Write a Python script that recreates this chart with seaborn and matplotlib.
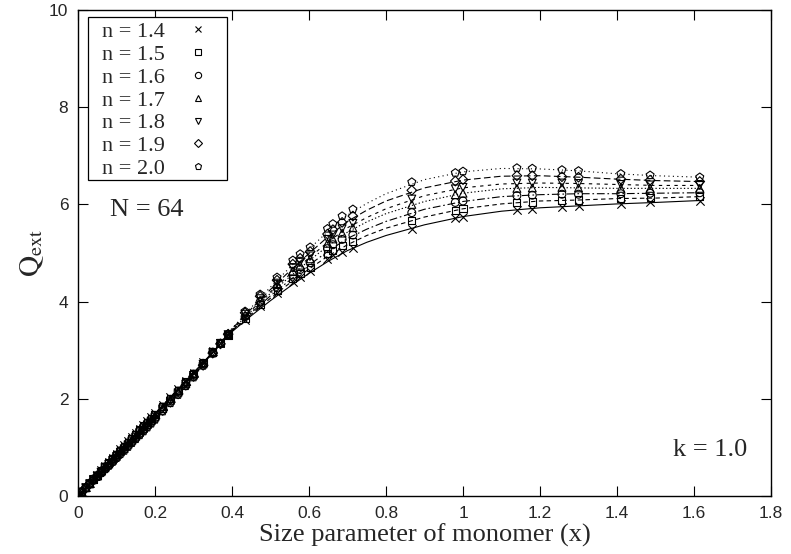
import matplotlib
matplotlib.use("Agg")
import matplotlib.pyplot as plt
import seaborn as sns
import pandas as pd
from matplotlib.lines import Line2D
from matplotlib.patches import Rectangle

# ---------------- data ----------------
labels = ["n = 1.4", "n = 1.5", "n = 1.6", "n = 1.7", "n = 1.8", "n = 1.9", "n = 2.0"]

x_pts = [0.0, 0.01, 0.02, 0.03, 0.04, 0.05, 0.06, 0.07, 0.08, 0.09, 0.10,
         0.11, 0.12, 0.13, 0.14, 0.15, 0.16, 0.17, 0.18, 0.19, 0.20,
         0.22, 0.24, 0.26, 0.28, 0.30, 0.325, 0.35, 0.37, 0.39,
         0.434, 0.473, 0.517, 0.558, 0.577, 0.603, 0.648, 0.662, 0.686, 0.714,
         0.867, 0.98, 1.0, 1.14, 1.18, 1.257, 1.30, 1.41, 1.486, 1.615]

q_14 = [0, 0.09, 0.18, 0.27, 0.36, 0.44, 0.53, 0.62, 0.70, 0.79, 0.87,
        0.96, 1.04, 1.13, 1.21, 1.29, 1.38, 1.46, 1.54, 1.62, 1.70,
        1.87, 2.03, 2.20, 2.37, 2.54, 2.76, 2.98, 3.15, 3.31,
        3.63, 3.90, 4.18, 4.40, 4.50, 4.63, 4.88, 4.95, 5.03, 5.10,
        5.50, 5.72, 5.75, 5.88, 5.91, 5.95, 5.97, 6.01, 6.04, 6.08]
q_15 = [0, 0.09, 0.18, 0.26, 0.35, 0.43, 0.52, 0.61, 0.69, 0.77, 0.85,
        0.94, 1.02, 1.11, 1.19, 1.27, 1.36, 1.44, 1.52, 1.60, 1.68,
        1.85, 2.01, 2.18, 2.35, 2.52, 2.75, 2.97, 3.15, 3.31,
        3.66, 3.94, 4.23, 4.48, 4.58, 4.71, 4.99, 5.06, 5.15, 5.24,
        5.66, 5.88, 5.91, 6.03, 6.05, 6.08, 6.09, 6.12, 6.14, 6.16]
q_16 = [0, 0.09, 0.17, 0.26, 0.35, 0.42, 0.51, 0.60, 0.67, 0.76, 0.84,
        0.93, 1.00, 1.09, 1.17, 1.25, 1.34, 1.42, 1.50, 1.58, 1.66,
        1.83, 1.99, 2.16, 2.33, 2.51, 2.73, 2.96, 3.14, 3.32,
        3.69, 3.99, 4.29, 4.55, 4.66, 4.80, 5.09, 5.17, 5.28, 5.37,
        5.83, 6.04, 6.07, 6.18, 6.19, 6.21, 6.21, 6.22, 6.23, 6.24]
q_17 = [0, 0.08, 0.17, 0.25, 0.34, 0.41, 0.50, 0.58, 0.66, 0.74, 0.82,
        0.91, 0.98, 1.07, 1.15, 1.23, 1.31, 1.39, 1.47, 1.55, 1.63,
        1.80, 1.97, 2.14, 2.31, 2.49, 2.72, 2.95, 3.14, 3.32,
        3.72, 4.03, 4.35, 4.63, 4.75, 4.88, 5.20, 5.29, 5.41, 5.52,
        6.00, 6.20, 6.23, 6.33, 6.34, 6.35, 6.34, 6.33, 6.33, 6.33]
q_18 = [0, 0.08, 0.17, 0.25, 0.33, 0.41, 0.49, 0.58, 0.65, 0.73, 0.81,
        0.90, 0.97, 1.05, 1.13, 1.21, 1.30, 1.38, 1.46, 1.54, 1.62,
        1.79, 1.95, 2.12, 2.30, 2.48, 2.71, 2.95, 3.14, 3.32,
        3.74, 4.06, 4.38, 4.69, 4.81, 4.94, 5.28, 5.37, 5.50, 5.61,
        6.11, 6.32, 6.35, 6.44, 6.44, 6.44, 6.43, 6.41, 6.40, 6.39]
q_19 = [0, 0.08, 0.16, 0.25, 0.33, 0.40, 0.48, 0.56, 0.63, 0.72, 0.80,
        0.88, 0.95, 1.03, 1.11, 1.19, 1.27, 1.35, 1.43, 1.51, 1.59,
        1.76, 1.93, 2.10, 2.28, 2.46, 2.69, 2.94, 3.13, 3.33,
        3.77, 4.11, 4.44, 4.77, 4.89, 5.03, 5.39, 5.48, 5.63, 5.76,
        6.29, 6.48, 6.51, 6.59, 6.59, 6.57, 6.56, 6.52, 6.50, 6.47]
q_20 = [0, 0.08, 0.16, 0.24, 0.32, 0.39, 0.47, 0.55, 0.62, 0.70, 0.78,
        0.86, 0.93, 1.01, 1.09, 1.17, 1.25, 1.33, 1.41, 1.49, 1.57,
        1.74, 1.91, 2.08, 2.26, 2.44, 2.68, 2.93, 3.13, 3.33,
        3.80, 4.15, 4.50, 4.85, 4.98, 5.12, 5.50, 5.60, 5.76, 5.90,
        6.46, 6.65, 6.68, 6.75, 6.74, 6.71, 6.69, 6.63, 6.60, 6.56]

# fitted curves
x_fit = [0, 0.1, 0.2, 0.3, 0.4, 0.45, 0.5, 0.55, 0.6, 0.65, 0.7, 0.75, 0.8,
         0.9, 1.0, 1.1, 1.2, 1.3, 1.4, 1.5, 1.615]
fit_14 = [0, 0.87, 1.70, 2.54, 3.38, 3.71, 4.02, 4.31, 4.58, 4.83, 5.05, 5.22, 5.36,
          5.58, 5.75, 5.86, 5.93, 5.97, 6.01, 6.04, 6.08]
fit_15 = [0, 0.85, 1.68, 2.52, 3.39, 3.74, 4.07, 4.38, 4.67, 4.94, 5.17, 5.36, 5.51,
          5.74, 5.91, 6.01, 6.07, 6.09, 6.12, 6.13, 6.16]
fit_16 = [0, 0.84, 1.66, 2.51, 3.40, 3.77, 4.12, 4.44, 4.75, 5.04, 5.30, 5.49, 5.65,
          5.90, 6.06, 6.16, 6.20, 6.22, 6.22, 6.23, 6.24]
fit_17 = [0, 0.82, 1.63, 2.49, 3.42, 3.80, 4.17, 4.51, 4.84, 5.15, 5.43, 5.64, 5.81,
          6.06, 6.23, 6.32, 6.35, 6.34, 6.33, 6.33, 6.33]
fit_18 = [0, 0.81, 1.62, 2.48, 3.42, 3.82, 4.20, 4.56, 4.90, 5.23, 5.52, 5.73, 5.91,
          6.18, 6.34, 6.42, 6.44, 6.43, 6.41, 6.39, 6.39]
fit_19 = [0, 0.80, 1.59, 2.46, 3.44, 3.85, 4.25, 4.63, 4.99, 5.34, 5.65, 5.88, 6.07,
          6.34, 6.50, 6.58, 6.59, 6.56, 6.52, 6.49, 6.47]
fit_20 = [0, 0.78, 1.57, 2.44, 3.45, 3.88, 4.30, 4.70, 5.08, 5.45, 5.78, 6.02, 6.22,
          6.51, 6.67, 6.74, 6.73, 6.69, 6.63, 6.59, 6.56]

x_ticks = [0, 0.2, 0.4, 0.6, 0.8, 1.0, 1.2, 1.4, 1.6, 1.8]
x_tick_labels = ["0", "0.2", "0.4", "0.6", "0.8", "1", "1.2", "1.4", "1.6", "1.8"]
y_ticks = [0, 2, 4, 6, 8, 10]
y_tick_labels = ["0", "2", "4", "6", "8", "10"]

point_series = [q_14, q_15, q_16, q_17, q_18, q_19, q_20]
fit_series = [fit_14, fit_15, fit_16, fit_17, fit_18, fit_19, fit_20]

# ---------------- style ----------------
sns.set_theme(style="white")
plt.rcParams["font.family"] = ["Liberation Serif", "DejaVu Serif"]
plt.rcParams["mathtext.fontset"] = "stix"

markers = ["x", "s", "o", "^", "v", "D", "p"]
msizes = [36, 26, 32, 32, 32, 24, 36]
dashes = ["-", (0, (4, 3)), (0, (7, 2.5, 1.5, 2.5)), (0, (1.2, 2)),
          (0, (3, 4)), (0, (6, 3)), (0, (1, 3))]

fig = plt.figure(figsize=(7.91, 5.54), dpi=100)
ax = fig.add_axes([78 / 791, 1 - 496 / 554, (771 - 78) / 791, (496 - 10) / 554])

for lab, fy, ls in zip(labels, fit_series, dashes):
    d = pd.DataFrame({"x": x_fit, "q": fy})
    sns.lineplot(data=d, x="x", y="q", ax=ax, color="black", lw=0.8,
                 linestyle=ls, sort=False, legend=False)

for lab, qy, m, ms in zip(labels, point_series, markers, msizes):
    d = pd.DataFrame({"x": x_pts, "q": qy})
    if m == "x":
        sns.scatterplot(data=d, x="x", y="q", ax=ax, marker=m, s=ms,
                        color="black", linewidth=0.8, legend=False, zorder=3)
    else:
        sns.scatterplot(data=d, x="x", y="q", ax=ax, marker=m, s=ms,
                        facecolors="none", edgecolor="black", linewidth=0.8,
                        legend=False, zorder=3)

ax.set_xlim(0, 1.8)
ax.set_ylim(0, 10)
ax.set_xticks(x_ticks)
ax.set_xticklabels(x_tick_labels)
ax.set_yticks(y_ticks)
ax.set_yticklabels(y_tick_labels)
tick_font = ["Liberation Sans Narrow", "Liberation Sans", "DejaVu Sans"]
for t in ax.get_xticklabels() + ax.get_yticklabels():
    t.set_fontfamily(tick_font)
    t.set_fontsize(12.5)
ax.tick_params(direction="in", length=7, width=0.8, color="black",
               top=True, right=True, bottom=True, left=True, pad=7)
for s in ax.spines.values():
    s.set_color("black")
    s.set_linewidth(1.0)

ax.set_xlabel("Size parameter of monomer (x)", fontsize=19, labelpad=2)
ax.set_ylabel(r"$\mathrm{Q}_{\mathrm{ext}}$", fontsize=21, labelpad=2)

ax.text(0.046, 0.588, "N = 64", transform=ax.transAxes, fontsize=19, va="center")
ax.text(0.858, 0.095, "k = 1.0", transform=ax.transAxes, fontsize=19, va="center")

# legend box drawn separately (wider side margins than top/bottom)
box = Rectangle((0.0144, 0.650), 0.2006, 0.3356, transform=ax.transAxes,
                facecolor="white", edgecolor="black", linewidth=0.9, zorder=4)
ax.add_patch(box)

handles = []
for m in markers:
    if m == "x":
        h = Line2D([], [], ls="none", marker=m, color="black", ms=5, mew=0.8)
    else:
        h = Line2D([], [], ls="none", marker=m, mfc="none", mec="black", ms=4.5, mew=0.8)
    handles.append(h)
leg = ax.legend(handles, labels, loc="upper left", bbox_to_anchor=(0.0346, 0.976),
                markerfirst=False, frameon=False, fontsize=16, labelspacing=0.1,
                handlelength=1.0, handletextpad=1.0, borderpad=0.0,
                borderaxespad=0.0)
leg.set_zorder(5)

fig.savefig("out.png", dpi=100)
